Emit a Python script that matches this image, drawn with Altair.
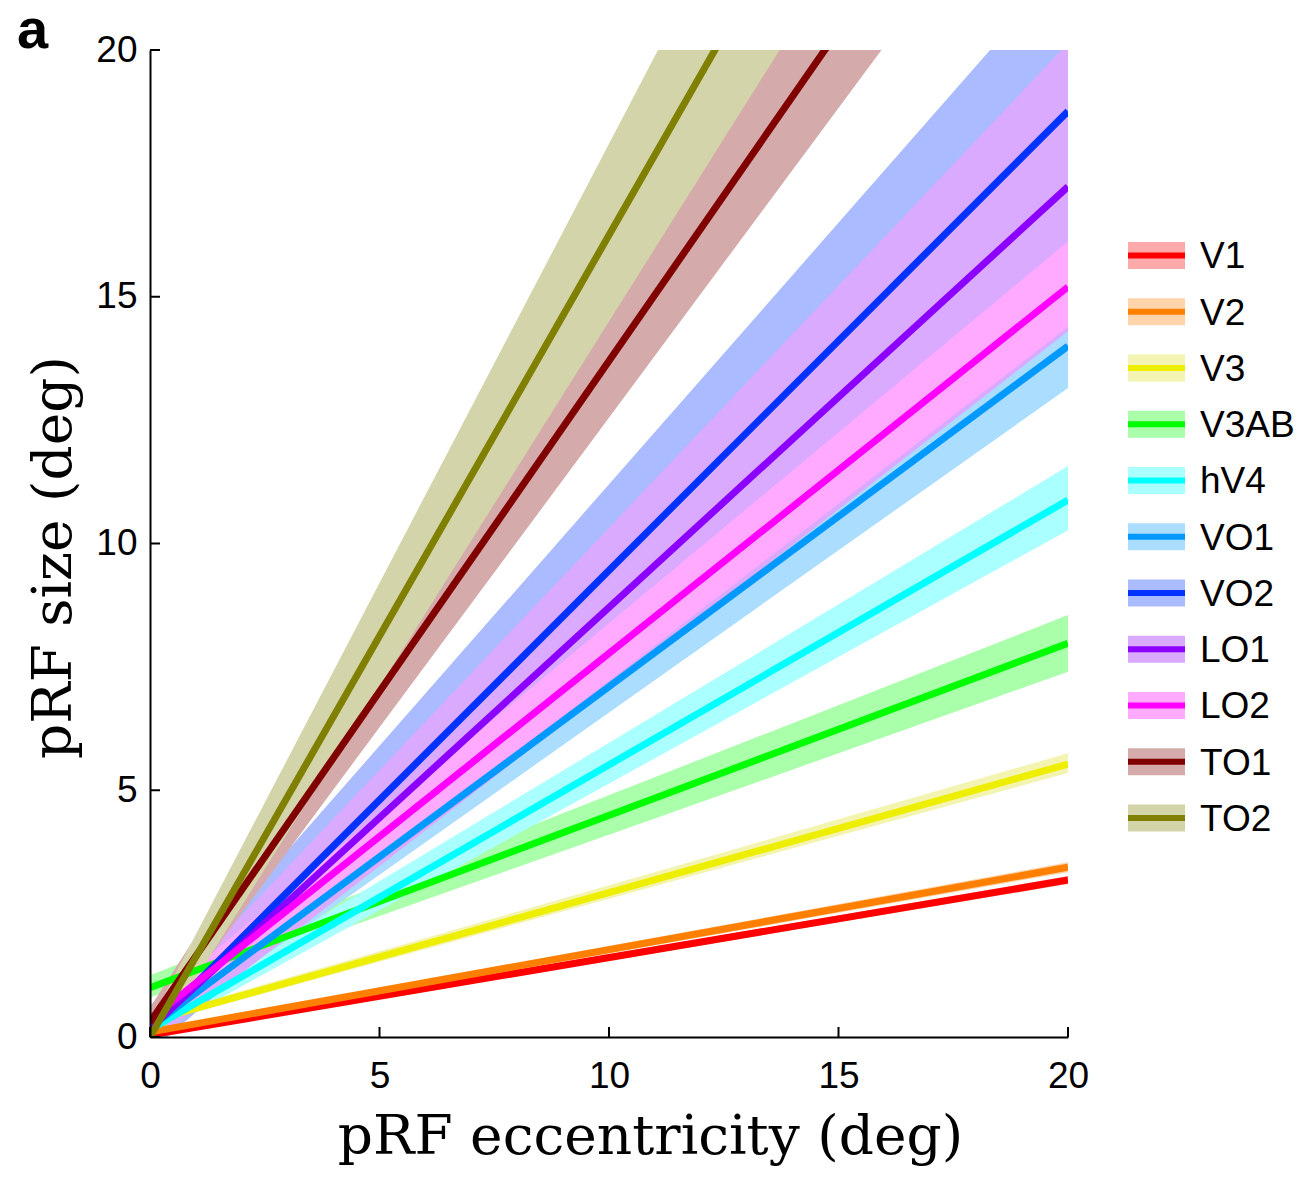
import altair as alt
import pandas as pd

# ---------------- data ----------------
regions = ["V1", "V2", "V3", "V3AB", "hV4", "VO1", "VO2", "LO1", "LO2", "TO1", "TO2"]
ecc_points = [0, 20]
size_at_0 = [0.04, 0.10, 0.32, 1.00, 0.15, 0.20, 0.15, 0.18, 0.35, 0.30, 0.00]
size_at_20 = [3.18, 3.44, 5.53, 7.98, 10.88, 14.00, 18.76, 17.23, 15.20, 27.10, 32.50]
lower_at_0 = [0.00, 0.05, 0.25, 0.80, 0.00, 0.00, -0.30, -0.15, 0.05, 0.00, -0.30]
upper_at_0 = [0.08, 0.15, 0.40, 1.25, 0.35, 0.45, 0.60, 0.50, 0.65, 0.60, 0.30]
lower_at_20 = [3.10, 3.34, 5.35, 7.40, 10.27, 13.15, 15.70, 14.30, 14.39, 25.10, 29.30]
upper_at_20 = [3.26, 3.54, 5.75, 8.55, 11.57, 14.85, 21.80, 20.14, 16.12, 29.40, 35.90]

line_colors = ["#ff0000", "#ff8000", "#eeee00", "#00ff00", "#00ffff", "#0099ff",
               "#0033ff", "#8c00ff", "#ff00ff", "#800000", "#808000"]
band_colors = ["#ffaaaa", "#ffd4aa", "#f4f4b2", "#aaffaa", "#aaffff", "#aaddff",
               "#aabbff", "#d9aaff", "#ffaaff", "#d4aaaa", "#d4d4aa"]

x_ticks = [0, 5, 10, 15, 20]
y_ticks = [0, 5, 10, 15, 20]
x_title = "pRF eccentricity (deg)"
y_title = "pRF size (deg)"
panel_label = ["a"]

# ---------------- tables ----------------
rows = []
for i, r in enumerate(regions):
    rows.append(dict(region=r, ecc=ecc_points[0], size=size_at_0[i], lo=lower_at_0[i], hi=upper_at_0[i]))
    rows.append(dict(region=r, ecc=ecc_points[1], size=size_at_20[i], lo=lower_at_20[i], hi=upper_at_20[i]))
df = pd.DataFrame(rows)

legend_df = pd.DataFrame({"region": regions, "idx": list(range(len(regions))),
                          "line": line_colors, "band": band_colors})

W, H = 918, 987
xs = alt.Scale(domain=[0, 20], nice=False, zero=False)
ys = alt.Scale(domain=[0, 20], nice=False, zero=False)

x_axis = alt.Axis(values=x_ticks, ticks=False, grid=False, format="d",
                  labelFont="Liberation Sans", labelFontSize=37, labelColor="black",
                  labelPadding=21, labelFlush=False, labelOverlap=False,
                  domainColor="black", domainWidth=2, zindex=1,
                  titleFont="DejaVu Serif", titleFontSize=55, titleFontWeight="normal",
                  titleColor="black", titleX=500, titleY=116, titleBaseline="alphabetic")
y_axis = alt.Axis(values=y_ticks, ticks=False, grid=False, format="d",
                  labelFont="Liberation Sans", labelFontSize=37, labelColor="black",
                  labelPadding=13, labelFlush=False, labelOverlap=False,
                  domainColor="black", domainWidth=2, zindex=1,
                  titleFont="DejaVu Serif", titleFontSize=55, titleFontWeight="normal",
                  titleColor="black", titleX=-80, titleY=507, titleAngle=270,
                  titleBaseline="alphabetic", titleAlign="center")

def X(field):
    return alt.X(field, scale=xs, axis=x_axis, title=x_title)

def Y(field):
    return alt.Y(field, scale=ys, axis=y_axis, title=y_title)

base = alt.Chart(df)
bands = [
    base.transform_filter(alt.datum.region == r)
    .mark_area(clip=True, color=band_colors[i], opacity=1)
    .encode(x=X("ecc:Q"), y=Y("lo:Q"), y2="hi:Q")
    for i, r in enumerate(regions)
]
lines = [
    base.transform_filter(alt.datum.region == r)
    .mark_line(clip=True, color=line_colors[i], strokeWidth=7)
    .encode(x=X("ecc:Q"), y=Y("size:Q"))
    for i, r in enumerate(regions)
]

xt = alt.Chart(pd.DataFrame({"t": x_ticks})).mark_rule(color="black", strokeWidth=2).encode(
    x=X("t:Q"), y=alt.value(H), y2=alt.value(H - 10))
yt = alt.Chart(pd.DataFrame({"t": y_ticks})).mark_rule(color="black", strokeWidth=2).encode(
    y=Y("t:Q"), x=alt.value(0), x2=alt.value(10))

label_a = alt.Chart(pd.DataFrame({"label": panel_label})).mark_text(
    font="Liberation Sans", fontSize=56, fontWeight="bold", align="left",
    baseline="alphabetic", color="black").encode(
    text="label:N", x=alt.value(-133), y=alt.value(-2))

main = alt.layer(*bands, *lines, xt, yt, label_a)

ly = alt.Y("idx:Q", scale=alt.Scale(domain=[-3.653, 13.894], reverse=True, nice=False, zero=False), axis=None)
lbase = alt.Chart(legend_df)
leg_band = lbase.mark_rule(strokeWidth=27, strokeCap="butt").encode(
    y=ly, x=alt.value(978), x2=alt.value(1035), color=alt.Color("band:N", scale=None))
leg_line = lbase.mark_rule(strokeWidth=6, strokeCap="butt").encode(
    y=ly, x=alt.value(978), x2=alt.value(1035), color=alt.Color("line:N", scale=None))
leg_text = lbase.mark_text(font="Liberation Sans", fontSize=37, align="left",
                           baseline="middle", dy=2, color="black").encode(
    y=ly, x=alt.value(1050), text="region:N")
legend = alt.layer(leg_band, leg_line, leg_text)

chart = (
    alt.layer(main, legend)
    .resolve_scale(y="independent")
    .properties(width=W, height=H,
                autosize=alt.AutoSizeParams(type="none"),
                padding={"left": 142, "top": 42, "right": 230, "bottom": 135},
                background="white")
    .configure_view(stroke=None)
)

chart.save("out.html", embed_options={"renderer": "svg", "actions": False})
